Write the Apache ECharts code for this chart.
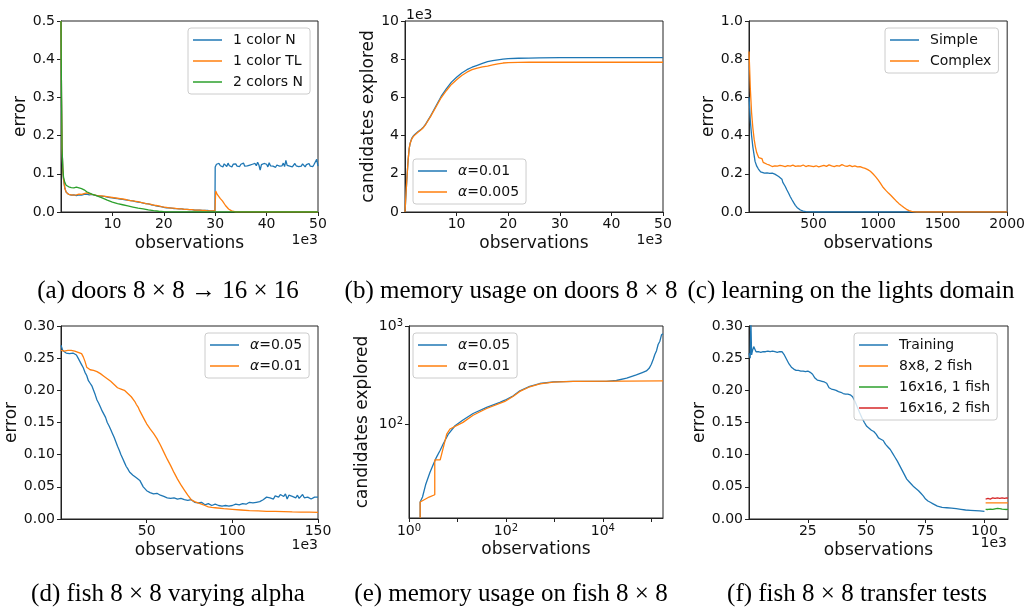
<!DOCTYPE html>
<html><head><meta charset="utf-8">
<script src="https://cdn.jsdelivr.net/npm/echarts@6/dist/echarts.min.js"></script>
<style>html,body{margin:0;padding:0;background:#fff}#c{width:1028px;height:607px}</style>
</head><body><div id="c"></div>
<script>
// ---------- (a) doors 8x8 -> 16x16 (x in 1e3 observations) ----------
const A_PRE_X = [0,0.1,0.2,0.35,0.5,0.75,1,1.5,2,2.5,3,3.5,4,4.5,5,5.5,6,6.5,7,7.5,8,8.5,9,9.5,10,10.5,11,11.5,12,12.5,13,13.5,14,14.5,15,15.5,16,16.5,17,17.5,18,18.5,19,19.5,20,20.5,21,21.5,22,22.5,23,23.5,24,24.5,25,25.5,26,26.5,27,27.5,28,28.5,29,29.5,29.95];
const A_BLUE_PRE = [0.5,0.3,0.17,0.11,0.085,0.062,0.052,0.046,0.044,0.045,
  0.043,0.045,0.044,0.046,0.047,0.045,0.046,0.044,0.043,0.042,
  0.041,0.041,0.039,0.038,0.037,0.036,0.035,0.034,0.033,0.032,
  0.031,0.03,0.029,0.027,0.026,0.025,0.023,0.022,0.021,0.019,
  0.018,0.016,0.015,0.014,0.012,0.011,0.011,0.01,0.009,0.009,
  0.008,0.008,0.007,0.007,0.006,0.006,0.005,0.005,0.005,0.004,
  0.004,0.004,0.003,0.003,0.003];
const A_POST_X = [30,30.25,30.5,30.75,31,31.25,31.5,31.75,32,32.25,32.5,32.75,33,33.25,33.5,33.75,34,34.25,34.5,34.75,35,35.25,35.5,35.75,36,36.25,36.5,36.75,37,37.25,37.5,37.75,38,38.25,38.5,38.75,39,39.25,39.5,39.75,40,40.25,40.5,40.75,41,41.25,41.5,41.75,42,42.25,42.5,42.75,43,43.25,43.5,43.75,44,44.25,44.5,44.75,45,45.25,45.5,45.75,46,46.25,46.5,46.75,47,47.25,47.5,47.75,48,48.25,48.5,48.75,49,49.25,49.5,49.75,50];
const A_BLUE_POST = [0.118,0.125,0.12,0.127,0.121,0.124,0.118,0.126,0.122,0.119,
  0.128,0.121,0.124,0.118,0.125,0.122,0.126,0.12,0.123,0.119,
  0.125,0.122,0.128,0.12,0.124,0.121,0.126,0.123,0.119,0.125,
  0.122,0.127,0.121,0.13,0.123,0.11,0.124,0.12,0.127,0.122,
  0.125,0.118,0.129,0.121,0.126,0.12,0.124,0.117,0.123,0.127,
  0.12,0.125,0.121,0.128,0.119,0.135,0.122,0.126,0.12,0.124,
  0.118,0.123,0.127,0.121,0.125,0.119,0.124,0.12,0.126,0.122,
  0.118,0.124,0.121,0.127,0.12,0.123,0.119,0.125,0.122,0.138,
  0.12];
const A_ORANGE_PRE = [0.5,0.3,0.17,0.11,0.085,0.062,0.052,0.046,0.045,0.044,
  0.045,0.047,0.046,0.048,0.05,0.048,0.046,0.045,0.043,0.042,
  0.042,0.041,0.04,0.039,0.038,0.037,0.036,0.035,0.034,0.033,
  0.031,0.03,0.029,0.028,0.027,0.025,0.024,0.022,0.021,0.02,
  0.018,0.017,0.016,0.014,0.013,0.012,0.011,0.01,0.01,0.009,
  0.008,0.008,0.007,0.007,0.006,0.006,0.005,0.005,0.005,0.004,
  0.004,0.003,0.003,0.003,0.003];
const A_ORANGE_POST_X = [30,30.1,30.4,30.7,31,31.4,31.7,32,32.3,32.6,32.9,33.2,33.5,34,50];
const A_ORANGE_POST = [0.003,0.055,0.046,0.041,0.035,0.029,0.024,0.017,0.012,0.008,0.005,0.003,0.001,0.0003,0];
const A_GREEN_X = [0,0.1,0.2,0.35,0.5,0.75,1,1.5,2,2.5,3,3.5,4,4.5,5,6,7,8,9,10,11,12,13,14,15,16,17,18,19,20,21,22,50];
const A_GREEN = [0.5,0.3,0.17,0.115,0.09,0.077,0.07,0.066,0.064,0.063,0.065,0.063,0.061,0.058,0.053,0.047,0.042,0.037,0.031,0.026,0.022,0.019,0.016,0.013,0.01,0.008,0.0055,0.0035,0.002,0.001,0.0005,0.0002,0];

// ---------- (b) memory usage on doors 8x8 (x, y in 1e3) ----------
const B_X = [0,0.2,0.4,0.6,0.8,1.0,1.3,1.6,2,2.5,3,3.5,4,5,6,7,8,9,10,11,12,13,14,15,16,17,18,19,20,22,24,26,30,40,50];
const B_A001 = [0,1.0,1.9,2.7,3.3,3.6,3.85,3.98,4.08,4.2,4.3,4.42,4.6,5.05,5.55,6.05,6.45,6.8,7.05,7.28,7.45,7.58,7.68,7.78,7.87,7.93,7.97,8.0,8.03,8.05,8.06,8.07,8.08,8.08,8.08];
const B_A0005 = [0,1.0,1.9,2.7,3.3,3.6,3.82,3.95,4.05,4.18,4.28,4.4,4.58,5.02,5.5,5.98,6.35,6.68,6.92,7.15,7.32,7.45,7.53,7.6,7.64,7.7,7.76,7.8,7.82,7.83,7.84,7.84,7.84,7.84,7.84];

// ---------- (c) learning on the lights domain ----------
const C_SIMPLE_X = [0,5,10,20,30,47,60,73,90,100,120,140,160,180,200,215,230,245,255,262,270,280,294,307,320,333,346,359,372,385,398,420,440,470,520,2000];
const C_SIMPLE = [0.6,0.55,0.48,0.4,0.34,0.265,0.24,0.225,0.21,0.205,0.203,0.205,0.202,0.203,0.198,0.19,0.186,0.18,0.172,0.155,0.145,0.135,0.115,0.098,0.08,0.064,0.049,0.035,0.024,0.016,0.0105,0.005,0.002,0.0008,0,0];
const C_COMPLEX_X = [0,5,10,20,30,40,50,60,75,90,100,110,125,140,160,180,200,220,240,260,280,300,320,340,360,380,400,420,440,460,480,500,520,540,560,580,600,620,640,660,680,700,720,740,760,780,800,820,840,860,880,900,920,940,960,980,1000,1020,1040,1060,1080,1100,1120,1140,1160,1180,1200,1220,1240,1260,1280,1300,2000];
const C_COMPLEX = [0.84,0.75,0.65,0.52,0.44,0.38,0.34,0.31,0.285,0.275,0.28,0.26,0.255,
  0.25,0.245,0.238,0.242,0.24,0.244,0.241,0.238,0.243,0.24,0.245,0.239,0.242,0.24,0.246,0.238,0.243,0.24,0.237,0.242,0.236,0.24,0.244,0.239,0.247,0.241,0.238,0.243,0.24,0.248,0.242,0.239,0.244,0.238,0.241,0.236,0.238,
  0.232,0.228,0.222,0.213,0.2,0.185,0.168,0.148,0.128,0.113,0.099,0.086,0.072,0.058,0.045,0.034,0.024,0.014,0.007,0.003,0.001,0,0];

// ---------- (d) fish 8x8 varying alpha (x in 1e3) ----------
const D_A005_X = [0,1,2,3,4,5,6,7,8,9,10,11,12,13,14,15,16,17,18,19,20,21,22,23,24,25,26,27,28,29,30,31,32,33,34,35,36,37,38,39,40,41,42,43,44,45,46,47,48,49,50,
  52,54,56,58,60,62,64,66,68,70,72,74,76,78,80,82,84,86,88,90,92,94,96,98,100,102,104,106,108,110,112,114,116,118,120,
  121,122,123,124,125,126,127,128,129,130,131,132,133,134,135,136,137,138,139,140,141,142,143,144,145,146,147,148,149,150];
const D_A005 = [0.27,0.262,0.259,0.258,0.259,0.257,0.258,0.258,0.256,0.255,0.25,
  0.245,0.24,0.235,0.228,0.223,0.215,0.211,0.207,0.2,0.193,
  0.185,0.18,0.174,0.168,0.163,0.158,0.15,0.145,0.139,0.133,
  0.127,0.12,0.113,0.107,0.1,0.094,0.088,0.082,0.078,0.073,
  0.07,0.068,0.066,0.064,0.063,0.06,0.055,0.05,0.047,0.044,
  0.041,0.039,0.04,0.037,0.035,0.033,0.032,0.033,0.031,0.032,
  0.03,0.029,0.03,0.026,0.025,0.026,0.022,0.024,0.021,0.023,
  0.021,0.02,0.021,0.02,0.021,0.023,0.022,0.024,0.023,0.026,
  0.025,0.026,0.027,0.03,0.034,
  0.037,0.033,0.035,0.031,0.036,0.039,0.034,0.038,0.04,0.035,
  0.039,0.031,0.037,0.04,0.035,0.038,0.033,0.037,0.032,0.034,
  0.038,0.033,0.031,0.034,0.032,0.031,0.033,0.034,0.032,0.034];
const D_A001_X = [0,1,2,3,4,5,6,7,8,9,10,11,12,13,14,15,16,17,18,19,20,21,22,23,24,25,26,27,28,29,30,31,32,33,34,35,36,37,38,39,40,41,42,43,44,45,46,47,48,49,50,
  52,54,56,58,60,62,64,66,68,70,72,74,76,78,80,82,84,86,88,90,95,100,105,110,115,120,125,130,135,140,145,150];
const D_A001 = [0.262,0.263,0.261,0.263,0.262,0.261,0.262,0.26,0.261,0.26,0.259,
  0.258,0.257,0.252,0.245,0.236,0.233,0.232,0.231,0.231,0.23,
  0.229,0.228,0.226,0.224,0.222,0.22,0.218,0.216,0.214,0.212,
  0.209,0.206,0.204,0.203,0.202,0.204,0.2,0.197,0.195,0.192,
  0.19,0.187,0.183,0.178,0.174,0.168,0.163,0.158,0.153,0.148,
  0.14,0.133,0.125,0.115,0.104,0.093,0.083,0.072,0.062,0.053,
  0.045,0.037,0.03,0.027,0.025,0.023,0.021,0.019,0.018,0.0175,
  0.016,0.015,0.014,0.013,0.0125,0.012,0.0117,0.0114,0.011,0.0108,0.0106,0.0104];

// ---------- (e) memory usage on fish 8x8 (log-log) ----------
const E_A005_X = [1.7,1.7,1.9,2.2,2.7,3.2,3.7,4.4,5.1,6.5,8.9,13,21,40,75,95,142,194,310,500,950,2450,11800,19000,31000,49000,65000,79000,90000,100000,110000,118000,128000,138000,150000,162000,174000];
const E_A005 = [11,16,18,24,32,39,46,54,63,79,96,110,128,148,166,175,194,218,242,259,269,272,272,278,294,317,335,348,370,407,460,512,560,648,700,813,834];
const E_A001_X = [1.7,1.7,2.6,3.4,3.4,4.4,6.0,7.0,13,21,40,95,142,194,310,500,950,2450,30000,174000];
const E_A001 = [11,16,18,19,43,43,79,89,104,123,144,170,192,215,240,257,268,272,274,276];

// ---------- (f) fish 8x8 transfer tests (x in 1e3) ----------
const F_TRAIN_X = [0,0.5,0.8,1.1,1.5,2,2.5,3,4,5,6,7,8,9,10,11,12,13,14,15,16,17,18,19,20,21,22,23,24,25,26,27,28,29,30,31,32,33,34,35,36,37,38,39,40,41,42,43,44,45,46,47,48,49,50,51,52,53,54,55,56,57,58,59,60,61,62,63,64,65,66,67,68,69,70,71,72,73,74,75,76,77,78,79,80,82,84,86,88,90,92,94,96,98,100];
const F_TRAIN = [0.258,0.25,0.31,0.255,0.262,0.268,0.264,0.26,
  0.26,0.259,0.26,0.26,0.261,0.26,0.261,0.26,0.259,0.26,
  0.26,0.255,0.248,0.241,0.236,0.233,0.231,0.231,0.23,0.23,
  0.229,0.23,0.228,0.225,0.219,0.216,0.215,0.214,0.213,0.211,
  0.204,0.202,0.201,0.2,0.198,0.197,0.195,0.194,0.194,0.193,
  0.19,0.183,0.174,0.165,0.157,0.15,0.144,0.141,0.138,0.136,
  0.132,0.126,0.124,0.122,0.116,0.112,0.108,0.102,0.096,0.09,
  0.083,0.076,0.069,0.062,0.058,0.054,0.05,0.047,0.044,0.04,
  0.036,0.031,0.028,0.026,0.024,0.022,0.02,
  0.018,0.0175,0.017,0.016,0.015,0.014,0.0135,0.013,0.0125,0.012];
const F_TEST_X = [100.5,101.5,102.5,103.5,104.5,105.5,106.5,107.5,108.5,109.5,110];
const F_8X8_2 = [0.025,0.025,0.025,0.025,0.025,0.025,0.025,0.025,0.025,0.025,0.025];
const F_16_1 = [0.015,0.0148,0.0152,0.015,0.0158,0.0165,0.016,0.0152,0.015,0.0148,0.015];
const F_16_2 = [0.031,0.032,0.031,0.033,0.032,0.033,0.032,0.033,0.032,0.033,0.032];

// tick labels
const A_XT = [10,20,30,40,50], A_YT = [0,0.1,0.2,0.3,0.4,0.5];
const B_XT = [10,20,30,40,50], B_YT = [0,2,4,6,8,10];
const C_XT = [500,1000,1500,2000], C_YT = [0,0.2,0.4,0.6,0.8,1.0];
const D_XT = [50,100,150], D_YT = [0,0.05,0.1,0.15,0.2,0.25,0.3];
const E_XT = [1,100,10000], E_XTICK = [1,10,100,1000,10000,100000], E_YT = [100,1000];
const F_XT = [25,50,75,100], F_YT = [0,0.05,0.1,0.15,0.2,0.25,0.3];

const CAPTIONS = ['(a) doors 8 × 8 → 16 × 16','(b) memory usage on doors 8 × 8','(c) learning on the lights domain',
                  '(d) fish 8 × 8 varying alpha','(e) memory usage on fish 8 × 8','(f) fish 8 × 8 transfer tests'];

// ---------- build ----------
const FONT = 'DejaVu Sans', TXT = '#111', AX = '#222';
const C1='#1f77b4', C2='#ff7f0e', C3='#2ca02c', C4='#d62728';
const zip = (xs, ys) => xs.map((x,i)=>[x, ys[i]]);
const fx = d => v => v.toFixed(d);
const sup = v => '10{s|' + Math.round(Math.log10(v)) + '}';

const grids = [
  {left:61, top:21, width:257, height:191},
  {left:405, top:21, width:258, height:191},
  {left:749, top:21, width:259, height:191},
  {left:61, top:326, width:257, height:193},
  {left:409, top:326, width:254, height:192},
  {left:749, top:326, width:259, height:193}
].map(g => Object.assign(g, {show:true, borderColor:AX, borderWidth:1, backgroundColor:'transparent'}));

function axis(gi, dir, type, min, max, ticks, labels, fmt, name, gap, margin){
  return {
    type, gridIndex: gi, min, max, logBase: 10,
    name, nameLocation:'middle', nameGap: gap,
    nameTextStyle:{fontFamily:FONT, fontSize:17, color:TXT},
    axisLine:{show:true, onZero:false, lineStyle:{color:AX, width:1}},
    axisTick:{show:true, length:4, lineStyle:{color:AX, width:1}, customValues: ticks},
    axisLabel:{show:true, customValues: labels, margin, fontFamily:FONT, fontSize:14, color:TXT, formatter: fmt,
      rich:{s:{fontFamily:FONT, fontSize:10, color:TXT, verticalAlign:'top', padding:[0,0,6,0]}}},
    splitLine:{show:false}, minorTick:{show:false}
  };
}
const xAxes = [
  axis(0,'x','value',0,50,A_XT,A_XT,fx(0),'observations',23,5),
  axis(1,'x','value',0,50,B_XT,B_XT,fx(0),'observations',23,5),
  axis(2,'x','value',0,2000,C_XT,C_XT,fx(0),'observations',23,5),
  axis(3,'x','value',0,150,D_XT,D_XT,fx(0),'observations',23,5),
  axis(4,'x','log',1,174000,E_XTICK,E_XT,sup,'observations',23,5),
  axis(5,'x','value',0,110,F_XT,F_XT,fx(0),'observations',23,5)
];
const yAxes = [
  axis(0,'y','value',0,0.5,A_YT,A_YT,fx(1),'error',31,6),
  axis(1,'y','value',0,10,B_YT,B_YT,fx(0),'candidates explored',28,6),
  axis(2,'y','value',0,1,C_YT,C_YT,fx(1),'error',28,6),
  axis(3,'y','value',0,0.3,D_YT,D_YT,fx(2),'error',38,6),
  axis(4,'y','log',11,1000,E_YT,E_YT,sup,'candidates explored',38,6),
  axis(5,'y','value',0,0.3,F_YT,F_YT,fx(2),'error',37,6)
];

function line(gi, name, xs, ys, color){
  return {type:'line', name, xAxisIndex:gi, yAxisIndex:gi, data: zip(xs, ys), showSymbol:false, symbol:'none',
    lineStyle:{width:1.3, color}, itemStyle:{color}, clip:true, animation:false};
}
const series = [
  line(0,'1 color N', A_PRE_X.concat(A_POST_X), A_BLUE_PRE.concat(A_BLUE_POST), C1),
  line(0,'1 color TL', A_PRE_X.concat(A_ORANGE_POST_X), A_ORANGE_PRE.concat(A_ORANGE_POST), C2),
  line(0,'2 colors N', A_GREEN_X, A_GREEN, C3),
  line(1,'b:α=0.01', B_X, B_A001, C1),
  line(1,'b:α=0.005', B_X, B_A0005, C2),
  line(2,'Simple', C_SIMPLE_X, C_SIMPLE, C1),
  line(2,'Complex', C_COMPLEX_X, C_COMPLEX, C2),
  line(3,'d:α=0.05', D_A005_X, D_A005, C1),
  line(3,'d:α=0.01', D_A001_X, D_A001, C2),
  line(4,'e:α=0.05', E_A005_X, E_A005, C1),
  line(4,'e:α=0.01', E_A001_X, E_A001, C2),
  line(5,'Training', F_TRAIN_X, F_TRAIN, C1),
  line(5,'8x8, 2 fish', F_TEST_X, F_8X8_2, C2),
  line(5,'16x16, 1 fish', F_TEST_X, F_16_1, C3),
  line(5,'16x16, 2 fish', F_TEST_X, F_16_2, C4)
];

function legend(names, left, top){
  return {orient:'vertical', left, top, data:names, icon:'rect', itemWidth:29, itemHeight:1.5, itemGap:7,
    padding:[5,7,5,5], backgroundColor:'rgba(255,255,255,0.8)', borderColor:'#cccccc', borderWidth:1, borderRadius:3,
    selectedMode:false, z:10,
    formatter: n => n.replace(/^[a-z]:/,'').replace('α','{a|α}'),
    textStyle:{fontFamily:FONT, fontSize:14, color:TXT, padding:[0,0,0,6],
      rich:{a:{fontFamily:FONT, fontSize:14, fontStyle:'italic', color:TXT}}}};
}
const legends = [
  legend(['1 color N','1 color TL','2 colors N'], 188, 28),
  legend(['b:α=0.01','b:α=0.005'], 413, 159),
  legend(['Simple','Complex'], 885, 28),
  legend(['d:α=0.05','d:α=0.01'], 205, 333),
  legend(['e:α=0.05','e:α=0.01'], 413, 333),
  legend(['Training','8x8, 2 fish','16x16, 1 fish','16x16, 2 fish'], 854, 333)
];

const tfont = '14px "DejaVu Sans"';
const graphic = [
  {type:'text', x:318, y:240, style:{text:'1e3', font:tfont, fill:TXT, align:'right', verticalAlign:'middle'}},
  {type:'text', x:663, y:240, style:{text:'1e3', font:tfont, fill:TXT, align:'right', verticalAlign:'middle'}},
  {type:'text', x:406, y:15, style:{text:'1e3', font:tfont, fill:TXT, align:'left', verticalAlign:'middle'}},
  {type:'text', x:318, y:545, style:{text:'1e3', font:tfont, fill:TXT, align:'right', verticalAlign:'middle'}},
  {type:'text', x:1007, y:543, style:{text:'1e3', font:tfont, fill:TXT, align:'right', verticalAlign:'middle'}}
];
const capPos = [[168,291],[511,291],[851,291],[168,594],[511,594],[857,594]];
CAPTIONS.forEach((t,i) => graphic.push({type:'text', x:capPos[i][0], y:capPos[i][1],
  style:{text:t, font:'25px "Liberation Serif"', fill:'#000', align:'center', verticalAlign:'middle'}}));

const chart = echarts.init(document.getElementById('c'), null, {renderer:'canvas'});
chart.setOption({animation:false, backgroundColor:'#fff', grid:grids, xAxis:xAxes, yAxis:yAxes,
  series, legend:legends, graphic});
</script></body></html>
